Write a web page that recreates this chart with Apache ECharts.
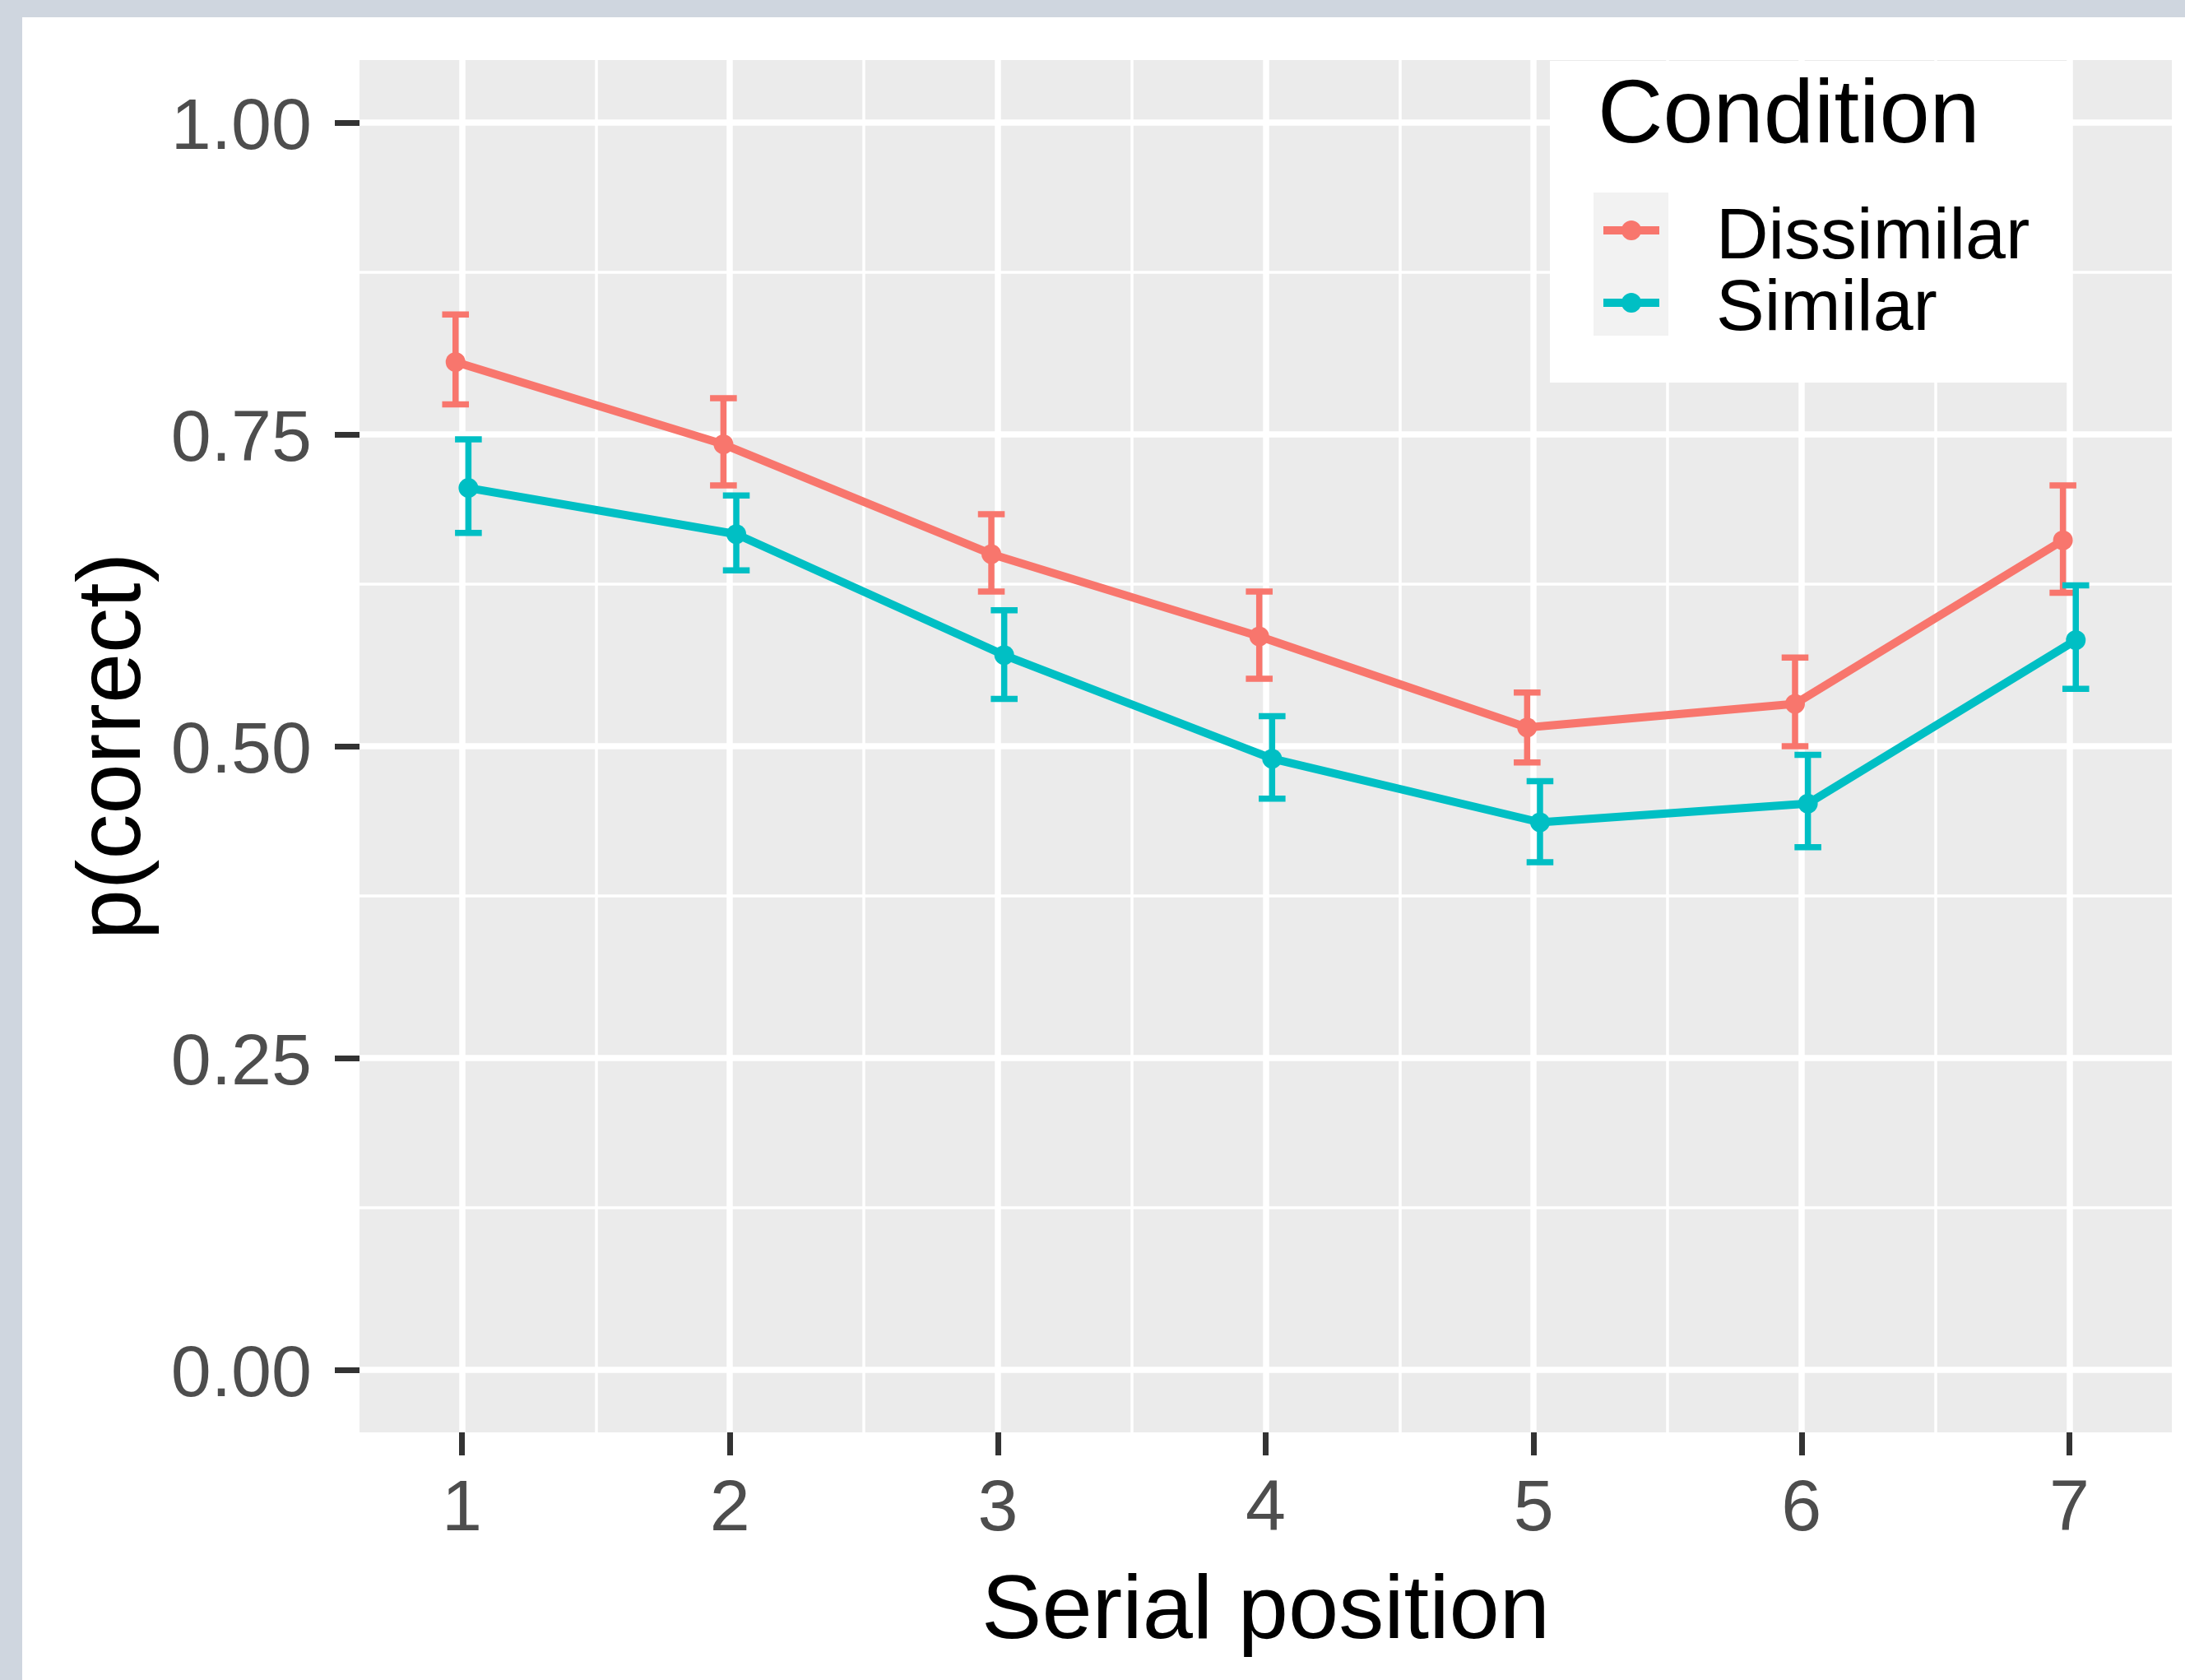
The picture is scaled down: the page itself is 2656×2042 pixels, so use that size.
<!DOCTYPE html>
<html>
<head>
<meta charset="utf-8">
<script src="https://cdn.jsdelivr.net/npm/echarts@6/dist/echarts.min.js"></script>
<style>
  html, body { margin: 0; padding: 0; background: #ffffff; }
  #chart { width: 2656px; height: 2042px; }
</style>
</head>
<body>
<div id="chart"></div>
<script>
// ---- data ----
const positions = [1, 2, 3, 4, 5, 6, 7];
const xTickLabels = ['1', '2', '3', '4', '5', '6', '7'];
const xMinorBreaks = [1.5, 2.5, 3.5, 4.5, 5.5, 6.5];
const yTicks = [0, 0.25, 0.5, 0.75, 1.0];
const yTickLabels = ['0.00', '0.25', '0.50', '0.75', '1.00'];
const yMinorBreaks = [0.125, 0.375, 0.625, 0.875];
const conditions = ['Dissimilar', 'Similar'];

const dissimilarMean = [0.808, 0.742, 0.654, 0.588, 0.515, 0.534, 0.665];
const dissimilarLow  = [0.774, 0.709, 0.624, 0.554, 0.487, 0.500, 0.623];
const dissimilarHigh = [0.846, 0.779, 0.686, 0.624, 0.543, 0.571, 0.709];

const similarMean = [0.707, 0.670, 0.573, 0.490, 0.439, 0.454, 0.585];
const similarLow  = [0.671, 0.641, 0.538, 0.458, 0.407, 0.419, 0.546];
const similarHigh = [0.746, 0.701, 0.609, 0.524, 0.472, 0.493, 0.629];

// ---- styling constants ----
const COLORS = { Dissimilar: '#F8766D', Similar: '#00BFC4' };
const DODGE = 0.024;
const CAP_HALF = 0.05;
const FONT = '"Liberation Sans", Arial, Helvetica, sans-serif';

const chart = echarts.init(document.getElementById('chart'), null, { renderer: 'canvas' });

function errorBarSeries(name, offset, lows, highs) {
  return {
    type: 'custom',
    name: name,
    z: 10,
    silent: true,
    data: positions.map((p, i) => [p + offset, lows[i], highs[i]]),
    encode: { x: 0, y: [1, 2] },
    renderItem: function (params, api) {
      const x = api.value(0), lo = api.value(1), hi = api.value(2);
      const top = api.coord([x, hi]);
      const bot = api.coord([x, lo]);
      const tl = api.coord([x - CAP_HALF, hi]);
      const tr = api.coord([x + CAP_HALF, hi]);
      const bl = api.coord([x - CAP_HALF, lo]);
      const br = api.coord([x + CAP_HALF, lo]);
      const mk = () => ({ stroke: COLORS[name], lineWidth: 7.5, fill: null, lineCap: 'butt' });
      return {
        type: 'group',
        children: [
          { type: 'line', shape: { x1: top[0], y1: top[1], x2: bot[0], y2: bot[1] }, style: mk() },
          { type: 'line', shape: { x1: tl[0], y1: tl[1], x2: tr[0], y2: tr[1] }, style: mk() },
          { type: 'line', shape: { x1: bl[0], y1: bl[1], x2: br[0], y2: br[1] }, style: mk() }
        ]
      };
    }
  };
}

function lineSeries(name, offset, means) {
  return {
    type: 'line',
    name: name,
    z: 11,
    data: positions.map((p, i) => [p + offset, means[i]]),
    symbol: 'circle',
    symbolSize: 24,
    showSymbol: true,
    lineStyle: { color: COLORS[name], width: 10 },
    itemStyle: { color: COLORS[name] },
    emphasis: { disabled: true },
    silent: true
  };
}

const gridLineData = []
  .concat(xMinorBreaks.map(v => ({ xAxis: v, lineStyle: { width: 3.5 } })))
  .concat(yMinorBreaks.map(v => ({ yAxis: v, lineStyle: { width: 3.5 } })))
  .concat(positions.map(v => ({ xAxis: v, lineStyle: { width: 7.5 } })))
  .concat(yTicks.map(v => ({ yAxis: v, lineStyle: { width: 7.5 } })));

const option = {
  animation: false,
  backgroundColor: '#ffffff',
  grid: {
    left: 437, right: 16, top: 73, bottom: 301,
    show: true, backgroundColor: '#ebebeb', borderWidth: 0
  },
  xAxis: {
    type: 'value',
    position: 'bottom',
    min: 0.6175, max: 7.3825,
    axisLine: { show: false, onZero: false },
    splitLine: { show: false },
    axisTick: { show: true, customValues: positions, length: 28, lineStyle: { color: '#333333', width: 7 } },
    axisLabel: {
      customValues: positions,
      formatter: v => xTickLabels[positions.indexOf(Math.round(v))],
      fontSize: 88, color: '#4d4d4d', fontFamily: FONT, margin: 51
    },
    name: 'Serial position',
    nameLocation: 'middle',
    nameGap: 165,
    nameTextStyle: { fontSize: 110, color: '#000000', fontFamily: FONT }
  },
  yAxis: {
    type: 'value',
    position: 'left',
    min: -0.05, max: 1.05,
    axisLine: { show: false, onZero: false },
    splitLine: { show: false },
    axisTick: { show: true, customValues: yTicks, length: 30, lineStyle: { color: '#333333', width: 7 } },
    axisLabel: {
      customValues: yTicks,
      formatter: v => yTickLabels[yTicks.findIndex(t => Math.abs(t - v) < 1e-6)],
      fontSize: 88, color: '#4d4d4d', fontFamily: FONT, margin: 58,
      verticalAlign: 'top', lineHeight: 16
    },
    name: 'p(correct)',
    nameLocation: 'middle',
    nameGap: 242,
    nameTextStyle: { fontSize: 110, color: '#000000', fontFamily: FONT }
  },
  series: [
    {
      type: 'line',
      name: 'gridlines',
      z: 1,
      silent: true,
      data: [],
      markLine: {
        z: 1,
        silent: true,
        symbol: ['none', 'none'],
        label: { show: false },
        emphasis: { disabled: true },
        lineStyle: { color: '#ffffff', type: 'solid' },
        data: gridLineData
      }
    },
    errorBarSeries('Dissimilar', -DODGE, dissimilarLow, dissimilarHigh),
    errorBarSeries('Similar', DODGE, similarLow, similarHigh),
    lineSeries('Dissimilar', -DODGE, dissimilarMean),
    lineSeries('Similar', DODGE, similarMean)
  ],
  graphic: [
    // outer frame strips
    { type: 'rect', z: 100, silent: true, shape: { x: 0, y: 0, width: 2656, height: 21 }, style: { fill: '#cfd6df' } },
    { type: 'rect', z: 100, silent: true, shape: { x: 0, y: 0, width: 27, height: 2042 }, style: { fill: '#cfd6df' } },
    // legend box
    { type: 'rect', z: 100, silent: true, shape: { x: 1884, y: 74, width: 634, height: 391 }, style: { fill: '#ffffff' } },
    { type: 'text', z: 101, silent: true, x: 1942, y: 143,
      style: { text: 'Condition', font: '110px ' + FONT, fill: '#000000', align: 'left', verticalAlign: 'middle', textAlign: 'left', textVerticalAlign: 'middle' } },
    { type: 'rect', z: 101, silent: true, shape: { x: 1937, y: 234, width: 91, height: 174 }, style: { fill: '#f2f2f2' } },
    { type: 'line', z: 102, silent: true, shape: { x1: 1949, y1: 280, x2: 2017, y2: 280 }, style: { stroke: COLORS.Dissimilar, lineWidth: 10 } },
    { type: 'circle', z: 103, silent: true, shape: { cx: 1983, cy: 280, r: 12 }, style: { fill: COLORS.Dissimilar } },
    { type: 'line', z: 102, silent: true, shape: { x1: 1949, y1: 368, x2: 2017, y2: 368 }, style: { stroke: COLORS.Similar, lineWidth: 10 } },
    { type: 'circle', z: 103, silent: true, shape: { cx: 1983, cy: 368, r: 12 }, style: { fill: COLORS.Similar } },
    { type: 'text', z: 101, silent: true, x: 2086, y: 290,
      style: { text: conditions[0], font: '88px ' + FONT, fill: '#000000', align: 'left', verticalAlign: 'middle', textAlign: 'left', textVerticalAlign: 'middle' } },
    { type: 'text', z: 101, silent: true, x: 2086, y: 377,
      style: { text: conditions[1], font: '88px ' + FONT, fill: '#000000', align: 'left', verticalAlign: 'middle', textAlign: 'left', textVerticalAlign: 'middle' } }
  ]
};

chart.setOption(option);
</script>
</body>
</html>
